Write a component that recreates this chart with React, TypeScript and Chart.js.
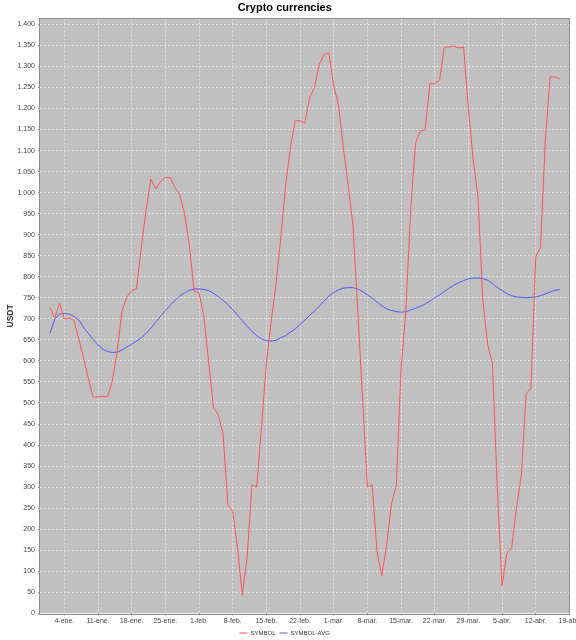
import React, { useEffect, useRef } from "react";
import { Chart, registerables } from "chart.js";

Chart.register(...registerables);

// Day index 0 = 1-ene.
const symbolValues: number[] = [
  727, 702, 737, 700, 702, 697, 652, 607, 558, 513,
  515, 515, 515, 553, 625, 720, 752, 767, 772, 870,
  960, 1032, 1009, 1027, 1036, 1036, 1013, 994, 950, 874,
  765, 762, 707, 598, 490, 472, 427, 258, 242, 156,
  43, 134, 305, 300, 445, 595, 693, 783, 892, 1018,
  1108, 1171, 1171, 1165, 1226, 1250, 1305, 1329, 1332, 1253,
  1209, 1108, 1018, 923, 720, 510, 300, 305, 147, 90,
  161, 260, 303, 580, 720, 960, 1117, 1147, 1149, 1259,
  1259, 1268, 1346, 1346, 1349, 1344, 1346, 1200, 1079, 989,
  745, 639, 594, 300, 66, 143, 156, 251, 328, 522,
  535, 847, 871, 1126, 1275, 1275, 1271,
];

const symbolAvgValues: number[] = [
  666, 699, 711, 713, 711, 706, 697, 680, 665, 651,
  638, 628, 622, 620, 621, 626, 633, 640, 647, 655,
  665, 678, 692, 706, 719, 732, 744, 754, 762, 768,
  771, 771, 770, 767, 761, 753, 744, 734, 722, 709,
  696, 682, 670, 660, 652, 648, 647, 649, 655, 660,
  668, 676, 687, 697, 708, 718, 730, 742, 754, 763,
  769, 773, 774, 774, 771, 765, 757, 749, 740, 731,
  724, 720, 717, 716, 717, 721, 725, 730, 735, 742,
  750, 757, 765, 773, 780, 786, 791, 795, 797, 797,
  796, 792, 784, 775, 767, 760, 755, 752, 751, 750,
  751, 752, 755, 759, 764, 768, 770,
];

const xTickDays: number[] = [3, 10, 17, 24, 31, 38, 45, 52, 59, 66, 73, 80, 87, 94, 101, 108];
const xTickLabels: string[] = [
  "4-ene.", "11-ene.", "18-ene.", "25-ene.", "1-feb.", "8-feb.", "15-feb.", "22-feb.",
  "1-mar.", "8-mar.", "15-mar.", "22-mar.", "29-mar.", "5-abr.", "12-abr.", "19-abr.",
];

const seriesNames: string[] = ["SYMBOL", "SYMBOL-AVG"];
const seriesColors: string[] = ["#ff5555", "#5555ff"];

const yStep = 50;
const yTop = 1400;

function formatThousands(v: number): string {
  if (v >= 1000) {
    const th = Math.floor(v / 1000);
    const rest = Math.round(v % 1000);
    return `${th}.${String(rest).padStart(3, "0")}`;
  }
  return String(v);
}

const plotBackground = {
  id: "plotBackground",
  beforeDraw(chart: any) {
    const { ctx, chartArea } = chart;
    if (!chartArea) return;
    ctx.save();
    ctx.fillStyle = "#c0c0c0";
    ctx.fillRect(chartArea.left, chartArea.top, chartArea.right - chartArea.left, chartArea.bottom - chartArea.top);
    ctx.restore();
  },
  afterDraw(chart: any) {
    const { ctx, chartArea } = chart;
    if (!chartArea) return;
    ctx.save();
    ctx.strokeStyle = "#8c8c8c";
    ctx.lineWidth = 1;
    ctx.strokeRect(
      Math.round(chartArea.left) - 0.5,
      Math.round(chartArea.top) - 0.5,
      Math.round(chartArea.right - chartArea.left) + 1,
      Math.round(chartArea.bottom - chartArea.top) + 1
    );
    ctx.restore();
  },
};

export default function App() {
  const canvasRef = useRef<HTMLCanvasElement | null>(null);

  useEffect(() => {
    const canvas = canvasRef.current;
    if (!canvas) return;
    const tickFont = { family: "'Liberation Sans', Arial, sans-serif", size: 7 };
    const gridColor = "rgba(255,255,255,0.55)";

    const chart = new Chart(canvas, {
      type: "line",
      data: {
        datasets: [
          {
            label: seriesNames[0],
            data: symbolValues.map((v, i) => ({ x: i, y: v })),
            borderColor: seriesColors[0],
            backgroundColor: seriesColors[0],
            borderWidth: 1,
            pointRadius: 0,
            tension: 0,
            fill: false,
          },
          {
            label: seriesNames[1],
            data: symbolAvgValues.map((v, i) => ({ x: i, y: v })),
            borderColor: seriesColors[1],
            backgroundColor: seriesColors[1],
            borderWidth: 1,
            pointRadius: 0,
            tension: 0,
            fill: false,
          },
        ],
      },
      plugins: [plotBackground],
      options: {
        responsive: false,
        animation: false,
        devicePixelRatio: 1,
        layout: {
          autoPadding: false,
          padding: { top: 0, left: 0, right: 6.6, bottom: -6 },
        },
        plugins: {
          title: {
            display: true,
            text: "Crypto currencies",
            color: "#000000",
            font: { family: "'Liberation Sans', Arial, sans-serif", size: 11, weight: "bold" },
            padding: { top: 1.2, bottom: 4.1 },
          },
          legend: {
            display: true,
            position: "bottom",
            labels: {
              usePointStyle: true,
              pointStyle: "line",
              pointStyleWidth: 8,
              padding: 4,
              color: "#333333",
              font: { family: "'Liberation Sans', Arial, sans-serif", size: 6 },
            },
          },
          tooltip: { enabled: false },
        },
        scales: {
          x: {
            type: "linear",
            min: -2.06,
            max: 108,
            afterFit(scale: any) {
              scale.height = 12.7;
              scale.paddingLeft = 0;
              scale.paddingRight = 0;
            },
            afterBuildTicks(scale: any) {
              scale.ticks = xTickDays.map((d) => ({ value: d }));
            },
            ticks: {
              autoSkip: false,
              maxRotation: 0,
              minRotation: 0,
              padding: 2,
              color: "#444444",
              font: tickFont,
              callback: (value: any) => {
                const idx = xTickDays.indexOf(Number(value));
                return idx >= 0 ? xTickLabels[idx] : "";
              },
            },
            grid: {
              color: gridColor,
              lineWidth: 1,
              tickLength: 2,
              tickColor: "#8c8c8c",
              drawTicks: true,
            },
            border: { display: false, dash: [2, 2] },
          },
          y: {
            type: "linear",
            min: 0,
            max: 1414,
            afterFit(scale: any) {
              scale.width = 40;
              scale.paddingTop = 0;
              scale.paddingBottom = 0;
            },
            afterBuildTicks(scale: any) {
              const list: { value: number }[] = [];
              for (let v = 0; v <= yTop; v += yStep) list.push({ value: v });
              scale.ticks = list;
            },
            title: {
              display: true,
              text: "USDT",
              color: "#333333",
              font: { family: "'Liberation Sans', Arial, sans-serif", size: 8.5, weight: "bold" },
              padding: { top: 5.6, bottom: 0 },
            },
            ticks: {
              autoSkip: false,
              padding: 3,
              color: "#444444",
              font: tickFont,
              callback: (value: any) => formatThousands(Number(value)),
            },
            grid: {
              color: gridColor,
              lineWidth: 1,
              tickLength: 2,
              tickColor: "#8c8c8c",
              drawTicks: true,
            },
            border: { display: false, dash: [2, 2] },
          },
        },
      },
    } as any);

    return () => {
      chart.destroy();
    };
  }, []);

  return (
    <div style={{ position: "absolute", left: 0, top: 0, width: 576, height: 640, background: "#ffffff" }}>
      <canvas ref={canvasRef} width={576} height={640} style={{ display: "block", width: 576, height: 640 }} />
    </div>
  );
}
